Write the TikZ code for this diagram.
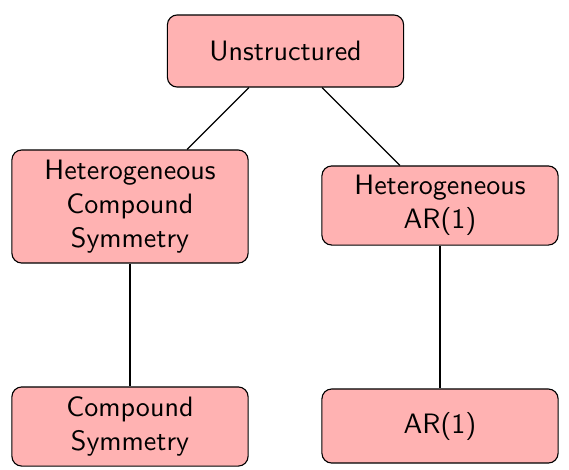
\documentclass[tikz,border=0pt]{standalone}
\begin{document}
\begin{tikzpicture}[x={0.3565pt},y={-0.3565pt},
  box/.style={draw=black, line width=0.4pt, fill=red!30, rounded corners=3.5pt,
    align=center, font=\sffamily, inner sep=0pt, minimum width=84.2pt},
  link/.style={draw=black, line width=0.4pt}]
\useasboundingbox (0,0) rectangle (569,469);
\node[box, minimum height=25.7pt] (u) at (285.5,51) {Unstructured};
\node[box, minimum height=40.3pt] (hcs) at (130,206.5) {Heterogeneous\\Compound\\Symmetry};
\node[box, minimum height=28.2pt] (har) at (440,205.5) {Heterogeneous\\AR(1)};
\node[box, minimum height=28.2pt] (cs) at (130,426.5) {Compound\\Symmetry};
\node[box, minimum height=26.4pt] (ar) at (440,426) {AR(1)};
\draw[link] (u) -- (hcs);
\draw[link] (u) -- (har);
\draw[link] (hcs) -- (cs);
\draw[link] (har) -- (ar);
\end{tikzpicture}
\end{document}
